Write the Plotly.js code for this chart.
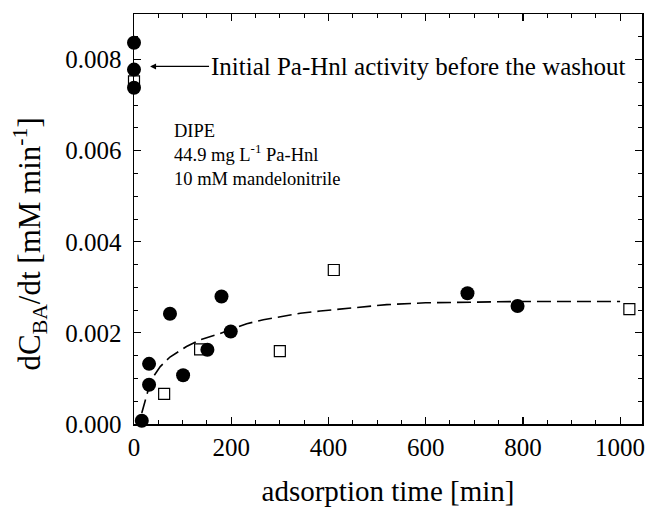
<!DOCTYPE html>
<html>
<head>
<meta charset="utf-8">
<script src="https://cdn.plot.ly/plotly-3.0.1.min.js"></script>
<style>html,body{margin:0;padding:0;background:#fff;}#chart{width:646px;height:513px;}</style>
</head>
<body>
<div id="chart"></div>
<script>
// filled circles
const circleX = [0, 0, 0, 16, 31, 31, 74, 101, 151, 180, 199, 686, 789];
const circleY = [0.00837, 0.00778, 0.00738, 0.00007, 0.00086, 0.00132, 0.00242, 0.00107, 0.00163, 0.00280, 0.00203, 0.00287, 0.00259];
// open squares
const squareX = [0, 62, 136, 300, 411, 1019];
const squareY = [0.00752, 0.00066, 0.00164, 0.00160, 0.00338, 0.00252];
// dashed fit curve
const fitX = [16, 33, 40, 54, 74, 108, 136, 170, 198, 232, 266, 300, 342, 383, 465, 520, 600, 700, 800, 900, 1000];
const fitY = [0.00024, 0.00089, 0.00104, 0.00126, 0.00147, 0.00170, 0.00185, 0.00196, 0.00207, 0.00220, 0.00229, 0.00236, 0.00243, 0.00248, 0.00257, 0.00262, 0.00266, 0.00268, 0.00269, 0.00269, 0.00269];
const xTicks = [0, 200, 400, 600, 800, 1000];
const yTicks = [0.000, 0.002, 0.004, 0.006, 0.008];

const serif = '"Liberation Serif", "Times New Roman", serif';

const traces = [
  {x: fitX, y: fitY, mode: 'lines', line: {color: '#000', width: 1.6, dash: '14px,6px'}, hoverinfo: 'skip'},
  {x: squareX, y: squareY, mode: 'markers', cliponaxis: false,
   marker: {symbol: 'square-open', size: 11, color: '#000', line: {width: 1.2, color: '#000'}}},
  {x: circleX, y: circleY, mode: 'markers', cliponaxis: false,
   marker: {symbol: 'circle', size: 14, color: '#000'}}
];

const axisCommon = {
  showline: true, linecolor: '#000', linewidth: 1.5, mirror: 'allticks',
  ticks: 'inside', ticklen: 7, tickwidth: 1.2, tickcolor: '#000',
  showgrid: false, zeroline: false,
  tickfont: {family: serif, size: 25, color: '#000'}
};

const layout = {
  width: 646, height: 513,
  margin: {l: 134, r: 4, t: 14, b: 89},
  paper_bgcolor: '#fff', plot_bgcolor: '#fff',
  showlegend: false,
  font: {family: serif, color: '#000'},
  xaxis: Object.assign({}, axisCommon, {
    range: [0, 1045], tickvals: xTicks, ticktext: xTicks.map(String),
    minor: {dtick: 50, ticks: 'inside', ticklen: 4, tickcolor: '#000', tickwidth: 1},
    title: {text: 'adsorption time [min]', font: {family: serif, size: 29, color: '#000'}, standoff: 21}
  }),
  yaxis: Object.assign({}, axisCommon, {
    range: [0, 0.009], tickvals: yTicks, ticktext: yTicks.map(v => v.toFixed(3)),
    minor: {dtick: 0.0005, ticks: 'inside', ticklen: 4, tickcolor: '#000', tickwidth: 1},
    ticklabelstandoff: 6
  }),
  annotations: [
    {x: -0.205, y: 0.44, xref: 'paper', yref: 'paper', xanchor: 'center', yanchor: 'middle',
     textangle: -90, showarrow: false,
     text: 'dC<sub>BA</sub>/dt [mM min<sup>-1</sup>]',
     font: {family: serif, size: 31, color: '#000'}},
    {x: 33, y: 0.00785, xref: 'x', yref: 'y', ax: 268, ay: 0,
     text: 'Initial Pa-Hnl activity before the washout',
     showarrow: true, arrowhead: 2, arrowsize: 1, arrowwidth: 1.2, arrowcolor: '#000',
     font: {family: serif, size: 25, color: '#000'}},
    {x: 0.075, y: 0.745, xref: 'paper', yref: 'paper', xanchor: 'left', yanchor: 'top',
     align: 'left', showarrow: false,
     text: 'DIPE<br>44.9 mg L<sup>-1</sup> Pa-Hnl<br>10 mM mandelonitrile',
     font: {family: serif, size: 18.5, color: '#000'}}
  ]
};

Plotly.newPlot('chart', traces, layout, {displayModeBar: false, staticPlot: true});
</script>
</body>
</html>
